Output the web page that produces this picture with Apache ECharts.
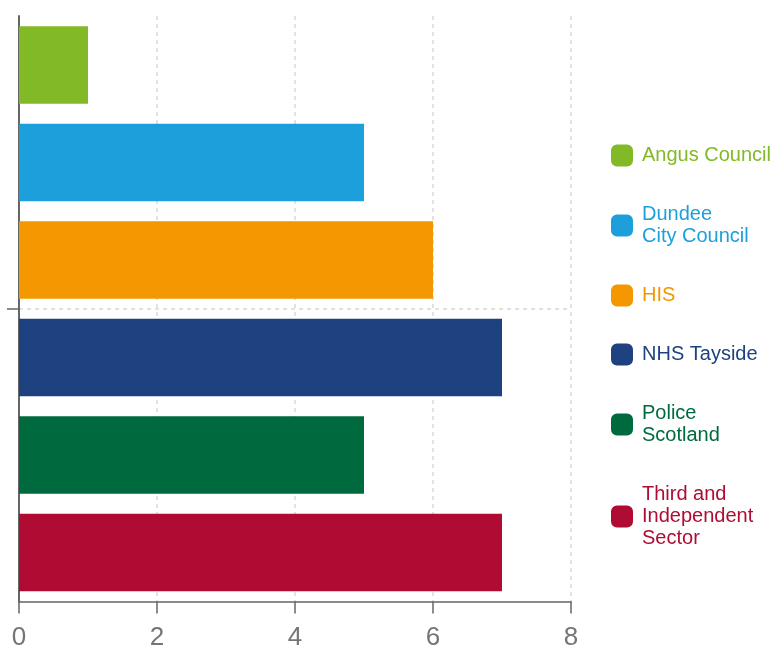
<!DOCTYPE html>
<html><head><meta charset="utf-8">
<script src="https://cdn.jsdelivr.net/npm/echarts@6/dist/echarts.min.js"></script>
<style>html,body{margin:0;padding:0;background:#fff}#c{width:772px;height:648px}</style>
</head><body><div id="c"></div>
<script>
const categories = [''];
const seriesNames = ['Angus Council', 'Dundee City Council', 'HIS', 'NHS Tayside', 'Police Scotland', 'Third and Independent Sector'];
const legendLabels = ['Angus Council', 'Dundee\nCity Council', 'HIS', 'NHS Tayside', 'Police\nScotland', 'Third and\nIndependent\nSector'];
const seriesValues = [1, 5, 6, 7, 5, 7];
const seriesColors = ['#82B926', '#1C9FDB', '#F39800', '#1D427F', '#006A3F', '#B00B33'];
const xTicks = [0, 2, 4, 6, 8];

const chart = echarts.init(document.getElementById('c'), null, {renderer: 'canvas'});
const FONT = 'Liberation Sans, Arial, sans-serif';
const series = seriesNames.map((n, i) => ({
  name: n, type: 'bar', data: [seriesValues[i]],
  itemStyle: {color: seriesColors[i], borderColor: seriesColors[i], borderWidth: 2},
  barWidth: 77.5, barGap: '25.8%'
}));
chart.setOption({
  animation: false,
  grid: {left: 19, right: 201, top: 16, bottom: 46.5, containLabel: false, outerBoundsMode: 'none'},
  legend: {
    orient: 'vertical', left: 606, top: 139.5,
    icon: 'roundRect', itemWidth: 20, itemHeight: 20, itemGap: 37,
    formatter: name => legendLabels[seriesNames.indexOf(name)],
    textStyle: {fontFamily: FONT, fontSize: 20, lineHeight: 22, padding: [0, 0, 0, 5]},
    data: seriesNames.map((n, i) => ({name: n, textStyle: {color: seriesColors[i]}}))
  },
  xAxis: {
    type: 'value', min: xTicks[0], max: xTicks[xTicks.length - 1], interval: 2,
    axisLine: {show: true, lineStyle: {color: '#666', width: 1.5}},
    axisTick: {show: true, length: 12, lineStyle: {color: '#666', width: 1.5}},
    axisLabel: {color: '#757575', fontSize: 26, fontFamily: FONT, margin: 23},
    splitLine: {show: true, lineStyle: {color: '#d9d9d9', width: 1.5, type: [4, 4]}}
  },
  yAxis: {
    type: 'category', data: categories,
    axisLine: {show: true, lineStyle: {color: '#666', width: 2}},
    axisTick: {show: true, alignWithLabel: true, length: 12, lineStyle: {color: '#666', width: 1.5}},
    axisLabel: {show: false},
    splitLine: {show: true, alignWithLabel: true, lineStyle: {color: '#d9d9d9', width: 1.5, type: [4, 4]}}
  },
  series: series
});
</script></body></html>
